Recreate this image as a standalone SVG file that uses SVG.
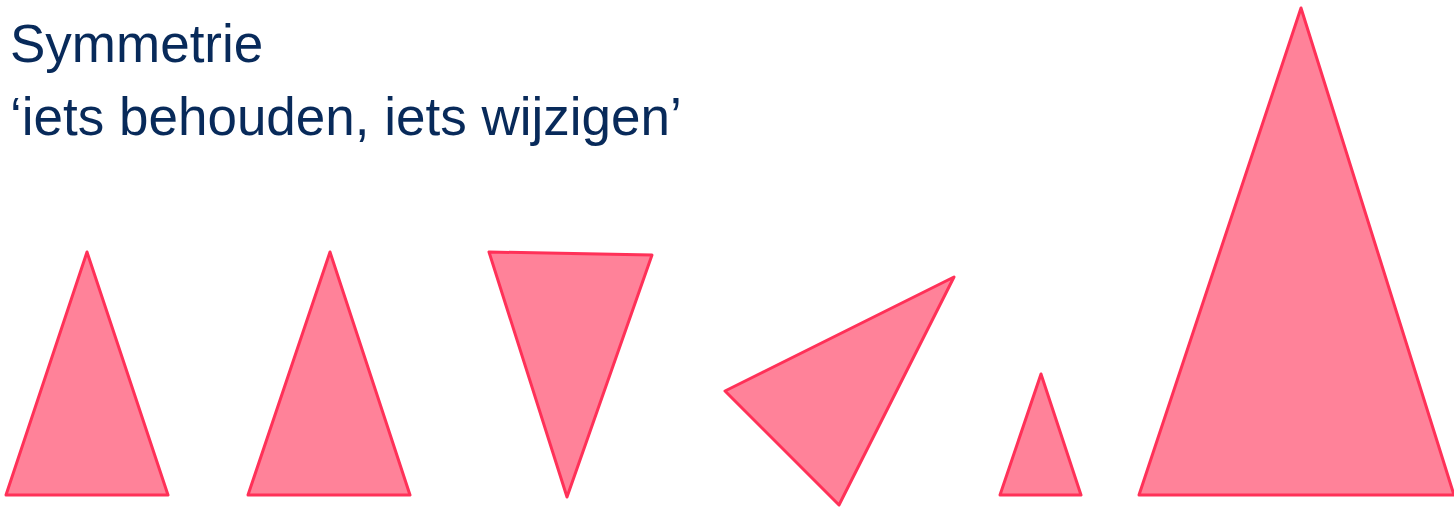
<svg xmlns="http://www.w3.org/2000/svg" width="1454" height="508" viewBox="0 0 1454 508">
<style>
.tri{fill:#ff8299;stroke:#ff3158;stroke-width:3;stroke-linejoin:round}
.t{font-family:"Liberation Sans",Arial,sans-serif;font-size:53px;fill:#082a5a}
</style>
<rect width="1454" height="508" fill="#ffffff"/>
<g id="title">
<text class="t" x="10" y="62">Symmetrie</text>
<text class="t" x="10" y="135">‘iets behouden, iets wijzigen’</text>
</g>
<g id="tri1"><polygon class="tri" points="87,252 168,495 6,495"/></g>
<g id="tri2"><polygon class="tri" points="330,252 410,495 248,495"/></g>
<g id="tri3"><polygon class="tri" points="489,252 652,255 567,497"/></g>
<g id="tri4"><polygon class="tri" points="725,391 954,277 839,505"/></g>
<g id="tri5"><polygon class="tri" points="1041,374 1081,495 1000,495"/></g>
<g id="tri6"><polygon class="tri" points="1301,8 1454,495 1139,495"/></g>
<g id="connectors"/>
</svg>
